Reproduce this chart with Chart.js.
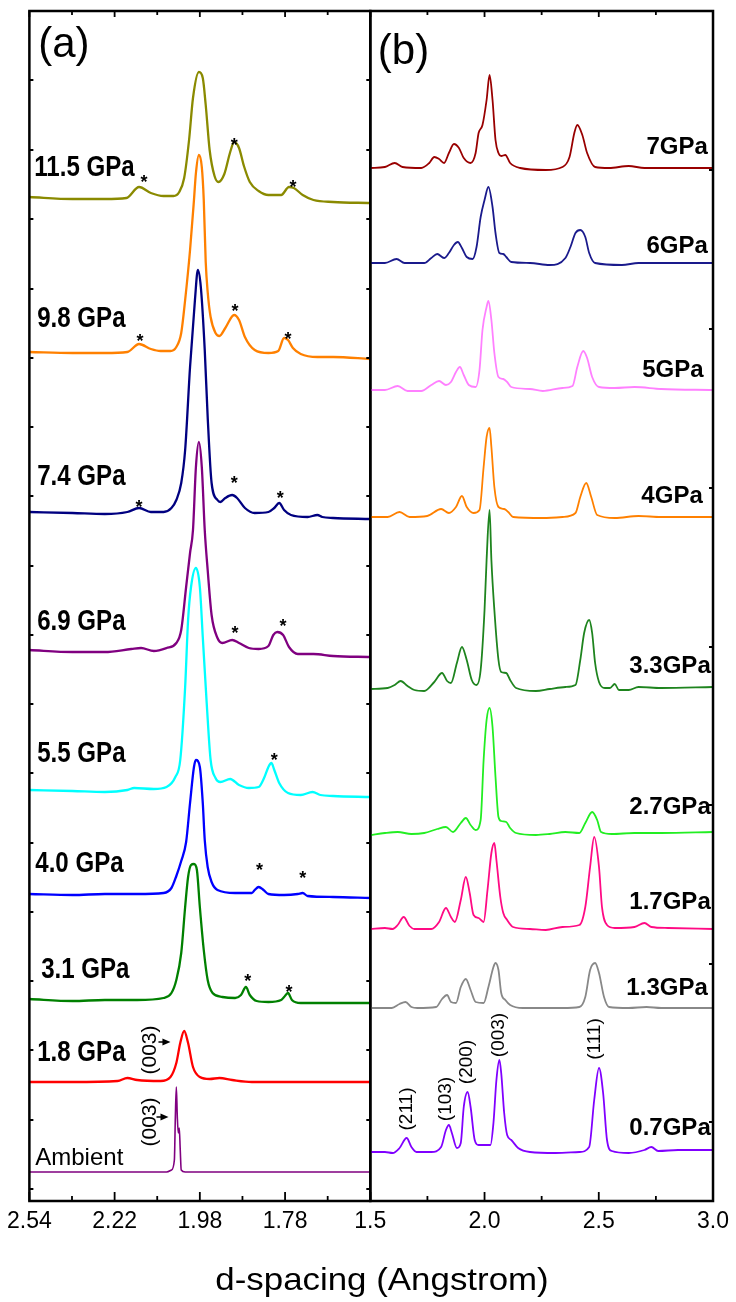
<!DOCTYPE html>
<html><head><meta charset="utf-8">
<script src="https://cdn.jsdelivr.net/npm/chart.js@4.4.1/dist/chart.umd.min.js"></script>
<style>
html,body{margin:0;padding:0;background:#fff;overflow:hidden;}
#wrap{position:relative;width:736px;height:1302px;background:#fff;}
canvas{position:absolute;left:0;top:0;}
#xtitle{position:absolute;left:132px;width:500px;top:1263px;text-align:center;font-family:'Liberation Sans',Arial,sans-serif;font-size:32px;line-height:32px;color:#000;white-space:nowrap;transform:scaleX(1.09);}
</style></head><body>
<div id="wrap">
<canvas id="ca" width="736" height="1302"></canvas>
<canvas id="cb" width="736" height="1302"></canvas>
<div id="xtitle">d-spacing (Angstrom)</div>
</div>
<script>
// ---------- axis ticks ----------
const tickValuesA = [0, 87, 174, 261, 348];
const tickLabelsA = ['2.54', '2.22', '1.98', '1.78', ''];
const minorTicksA = [43.5, 130.5, 217.5, 304.5];
const yTicksA = [12, 81, 151, 220, 289, 358, 428, 497, 566, 635, 705, 774, 843, 912, 982, 1051, 1121];
const tickValuesB = [1.5, 2.0, 2.5, 3.0];
const minorTicksB = [1.75, 2.25, 2.75];
const yTicksB = [79, 237, 396, 554, 713, 872, 1031];

// ---------- panel (a): [axis position, intensity] ----------
const pressuresA = ['11.5 GPa', '9.8 GPa', '7.4 GPa', '6.9 GPa', '5.5 GPa', '4.0 GPa', '3.1 GPa', '1.8 GPa', 'Ambient'];
const offsetsA = [1004, 849, 689, 551, 411, 307, 202, 119, 29];
const a115 = [[0,0],[44,-2],[77,-2],[99,-1],[112,10],[124,4],[137,1],[147,1],[153,5],[158,19],[163,57],[167,99],[173,125],[177,119],[180,92],[184,47],[189,21],[193,15],[199,23],[205,45],[209,55],[214,49],[219,31],[225,15],[234,6],[244,2],[257,2],[265,10],[270,9],[279,2],[290,-3],[310,-5],[348,-6]];
const a98 = [[0,0],[44,-1],[77,-1],[100,0],[112,8],[124,3],[134,1],[144,1],[150,5],[155,19],[159,52],[164,102],[168,152],[170,179],[173,197],[176,185],[178,152],[180,90],[182,60],[185,35],[190,19],[194,16],[200,24],[209,37],[214,32],[220,15],[230,2],[244,-1],[254,1],[260,14],[264,12],[269,4],[277,-2],[294,-5],[310,-5],[348,-7]];
const a74 = [[0,0],[44,-1],[77,-2],[100,0],[112,4],[124,0],[137,0],[145,4],[150,12],[155,29],[159,62],[164,145],[169,212],[172,242],[175,225],[179,162],[182,95],[186,29],[192,12],[195,10],[200,14],[207,17],[212,14],[220,4],[230,-1],[244,0],[250,4],[255,9],[260,2],[267,-3],[284,-5],[294,-3],[299,-5],[310,-6],[348,-7]];
const a69 = [[0,0],[44,-2],[77,-2],[104,1],[114,2],[127,-1],[140,2],[150,7],[155,20],[160,63],[164,97],[167,120],[170,183],[173,208],[176,183],[179,120],[182,80],[186,35],[192,12],[197,7],[207,10],[214,7],[224,2],[234,1],[244,4],[249,15],[253,18],[259,15],[265,3],[274,-4],[290,-4],[310,-6],[348,-7]];
const a55 = [[0,0],[44,-1],[77,-2],[100,0],[107,2],[127,1],[140,3],[149,13],[154,30],[159,103],[162,170],[165,203],[170,222],[174,203],[177,153],[181,87],[185,30],[190,12],[195,8],[205,11],[214,5],[224,2],[234,3],[240,13],[244,23],[247,27],[250,20],[255,7],[264,-3],[277,-5],[289,-2],[297,-5],[310,-6],[348,-7]];
const a40 = [[0,0],[44,-1],[77,0],[110,0],[137,1],[145,6],[150,18],[155,33],[160,52],[164,91],[168,127],[170,134],[174,127],[177,91],[179,54],[182,27],[186,12],[192,4],[210,1],[227,1],[230,4],[234,7],[239,4],[244,0],[260,-1],[274,0],[279,1],[284,-2],[310,-3],[348,-4]];
const a31 = [[0,0],[44,-2],[77,-1],[110,-1],[137,1],[145,6],[150,19],[155,46],[159,92],[162,122],[165,134],[168,135],[171,129],[174,92],[178,49],[182,19],[187,6],[197,2],[210,1],[216,4],[221,12],[225,4],[232,-2],[244,-3],[257,-1],[260,2],[264,6],[268,-1],[277,-4],[310,-4],[348,-4]];
const a18 = [[0,0],[44,0],[90,1],[100,4],[110,2],[134,1],[144,5],[150,19],[154,39],[158,51],[162,39],[167,15],[174,5],[184,3],[194,4],[207,2],[227,0],[310,0],[348,0]];
const aAmb = [[0,0],[140,0],[145,2],[148,12],[149,55],[150,85],[151,55],[152,39],[153,44],[154,22],[155,2],[159,0],[348,0]];
const seriesA = [a115, a98, a74, a69, a55, a40, a31, a18, aAmb];
const colorsA = ['#8a8a00', '#ff8000', '#000080', '#800080', '#00ffff', '#0000ff', '#008000', '#ff0000', '#800080'];

// ---------- panel (b): [d-spacing, intensity] ----------
const pressuresB = ['7GPa', '6GPa', '5GPa', '4GPa', '3.3GPa', '2.7GPa', '1.7GPa', '1.3GPa', '0.7GPa'];
const offsetsB = [1033, 938, 811, 684, 512, 366, 272, 193, 49];
const b7 = [[1.5,0],[1.564,1],[1.607,5],[1.641,1],[1.723,0],[1.758,5],[1.780,11],[1.801,9],[1.823,5],[1.844,15],[1.866,24],[1.888,20],[1.909,10],[1.939,5],[1.961,15],[1.974,35],[1.991,43],[2.009,68],[2.022,93],[2.035,68],[2.048,28],[2.061,15],[2.073,12],[2.091,13],[2.112,5],[2.156,0],[2.268,-2],[2.341,1],[2.372,11],[2.393,35],[2.406,43],[2.428,33],[2.449,15],[2.484,1],[2.545,0],[2.631,2],[2.700,0],[3.0,0]];
const b6 = [[1.5,0],[1.564,0],[1.615,4],[1.650,0],[1.736,0],[1.767,5],[1.793,9],[1.823,5],[1.844,10],[1.866,18],[1.883,21],[1.901,15],[1.922,6],[1.948,4],[1.965,16],[1.983,46],[2.000,63],[2.017,76],[2.035,56],[2.048,30],[2.065,10],[2.082,9],[2.095,6],[2.117,1],[2.199,0],[2.285,-2],[2.354,5],[2.376,16],[2.398,30],[2.419,33],[2.441,26],[2.458,10],[2.484,0],[2.601,-2],[2.674,0],[3.0,0]];
const b5 = [[1.5,0],[1.564,0],[1.620,4],[1.663,-1],[1.723,-1],[1.767,5],[1.801,9],[1.831,5],[1.853,8],[1.875,18],[1.892,23],[1.909,15],[1.931,5],[1.961,3],[1.978,20],[1.991,60],[2.009,83],[2.017,89],[2.030,70],[2.043,37],[2.061,13],[2.082,11],[2.099,8],[2.117,3],[2.199,1],[2.255,-1],[2.341,2],[2.385,4],[2.406,23],[2.432,39],[2.449,32],[2.471,13],[2.501,3],[2.570,2],[2.656,3],[2.773,1],[3.0,0]];
const b4 = [[1.5,0],[1.576,0],[1.628,5],[1.672,0],[1.749,1],[1.810,8],[1.844,4],[1.875,10],[1.901,21],[1.922,10],[1.952,4],[1.978,7],[1.996,50],[2.009,80],[2.022,89],[2.030,70],[2.043,30],[2.061,10],[2.086,8],[2.104,5],[2.125,0],[2.255,-1],[2.341,0],[2.398,4],[2.419,20],[2.445,34],[2.467,20],[2.493,2],[2.570,-1],[2.674,1],[2.773,0],[3.0,0]];
const b33 = [[1.5,0],[1.576,1],[1.607,4],[1.633,8],[1.663,3],[1.693,-1],[1.736,-2],[1.780,7],[1.814,16],[1.836,8],[1.853,6],[1.879,26],[1.901,42],[1.922,29],[1.944,9],[1.965,4],[1.983,19],[2.000,79],[2.009,129],[2.022,179],[2.030,129],[2.043,79],[2.061,29],[2.073,17],[2.095,16],[2.112,9],[2.138,1],[2.225,-2],[2.285,0],[2.354,2],[2.398,4],[2.419,29],[2.436,56],[2.458,69],[2.471,56],[2.484,26],[2.501,7],[2.527,1],[2.549,1],[2.570,5],[2.588,-1],[2.631,-1],[2.674,2],[2.773,1],[3.0,2]];
const b27 = [[1.5,0],[1.564,2],[1.620,3],[1.680,1],[1.736,2],[1.793,6],[1.831,8],[1.862,3],[1.896,12],[1.918,17],[1.939,10],[1.961,5],[1.983,15],[1.996,75],[2.009,115],[2.022,127],[2.035,108],[2.048,58],[2.061,18],[2.073,14],[2.095,13],[2.112,7],[2.138,2],[2.225,0],[2.285,1],[2.354,3],[2.415,2],[2.441,12],[2.471,23],[2.493,15],[2.510,3],[2.557,1],[2.656,2],[2.773,2],[3.0,3]];
const b17 = [[1.5,0],[1.564,1],[1.598,0],[1.620,4],[1.646,12],[1.672,3],[1.693,0],[1.767,0],[1.801,7],[1.831,21],[1.853,12],[1.870,7],[1.896,29],[1.918,52],[1.935,36],[1.952,14],[1.974,11],[1.996,7],[2.013,39],[2.030,76],[2.043,86],[2.052,69],[2.069,32],[2.082,16],[2.099,9],[2.125,2],[2.199,0],[2.268,-1],[2.341,2],[2.415,4],[2.441,22],[2.462,62],[2.480,92],[2.501,62],[2.514,22],[2.536,4],[2.570,1],[2.656,2],[2.700,6],[2.730,2],[2.803,1],[3.0,0]];
const b13 = [[1.5,0],[1.594,0],[1.628,4],[1.654,6],[1.680,1],[1.706,0],[1.788,1],[1.814,9],[1.836,13],[1.853,6],[1.875,5],[1.896,21],[1.918,29],[1.939,18],[1.961,6],[1.996,5],[2.017,21],[2.039,41],[2.048,45],[2.061,38],[2.073,15],[2.091,8],[2.112,3],[2.168,0],[2.341,0],[2.415,1],[2.441,11],[2.462,38],[2.484,45],[2.501,35],[2.523,11],[2.545,1],[2.631,0],[2.709,1],[2.773,0],[3.0,0]];
const b07 = [[1.5,0],[1.564,0],[1.598,-1],[1.628,4],[1.659,14],[1.680,5],[1.702,0],[1.767,0],[1.810,5],[1.831,22],[1.844,27],[1.857,19],[1.879,4],[1.896,9],[1.909,45],[1.926,60],[1.939,45],[1.957,12],[1.974,7],[2.026,7],[2.039,29],[2.052,72],[2.065,92],[2.073,79],[2.086,39],[2.099,17],[2.117,12],[2.147,4],[2.199,0],[2.311,-1],[2.415,0],[2.458,5],[2.480,52],[2.501,84],[2.519,59],[2.536,12],[2.557,1],[2.631,-1],[2.700,2],[2.730,5],[2.760,1],[2.847,2],[3.0,2]];
const seriesB = [b7, b6, b5, b4, b33, b27, b17, b13, b07];
const colorsB = ['#990000', '#1a1a8c', '#ff80ff', '#ff8000', '#1e841e', '#22ee22', '#ff0a84', '#888888', '#8000ff'];

// ---------- annotation anchors (data coordinates) ----------
const labelPosA = [[5,1025],[8,874],[8,716],[8,571],[8,439],[6,329],[12,223],[8,140],[6,36]];
const starsA = [[117,1024],[209,1061],[269,1019],[113,865],[210,895],[264,867],[112,699],[209,723],[256,708],[210,573],[259,580],[250,446],[235,336],[279,328],[223,225],[265,214]];
const hklA = [['(003)',123,151],['(003)',123,79]];
const arrowsA = [[144,159],[142,84]];
const labelPosB = [[2.977,1047],[2.977,948],[2.959,824],[2.955,698],[2.990,528],[2.990,387],[2.990,292],[2.977,206],[2.990,66]];
const hklB = [['(211)',1.659,92],['(103)',1.831,102],['(200)',1.922,139],['(003)',2.061,166],['(111)',2.484,162]];

const SANS = "'Liberation Sans',Arial,Helvetica,sans-serif";

const framePlugin = {
  id: 'frame',
  afterDraw(chart, args, o) {
    const {ctx, chartArea: a, scales: {x, y}} = chart;
    ctx.save();
    ctx.strokeStyle = '#000';
    ctx.lineWidth = 1.8;
    ctx.beginPath();
    const tk = (vals, lb, lt) => vals.forEach(v => {
      const px = x.getPixelForValue(v);
      ctx.moveTo(px, a.bottom); ctx.lineTo(px, a.bottom - lb);
      ctx.moveTo(px, a.top); ctx.lineTo(px, a.top + lt);
    });
    tk(o.xMajor, 9, 6); tk(o.xMinor, 5, 4);
    o.yTicks.forEach(v => {
      const py = y.getPixelForValue(v);
      if (o.yLeft) { ctx.moveTo(a.left, py); ctx.lineTo(a.left + 4, py); }
      if (o.yRight) { ctx.moveTo(a.right, py); ctx.lineTo(a.right - 4, py); }
    });
    ctx.stroke();
    ctx.lineWidth = 2.5;
    ctx.strokeRect(a.left, a.top, a.right - a.left, a.bottom - a.top);
    ctx.restore();
  }
};

const notesPlugin = {
  id: 'notes',
  afterDatasetsDraw(chart, args, o) {
    const {ctx, scales: {x, y}} = chart;
    ctx.save();
    ctx.fillStyle = '#000';
    (o.items || []).forEach(it => {
      const px = x.getPixelForValue(it.x), py = y.getPixelForValue(it.y);
      ctx.font = it.font;
      ctx.textAlign = it.align || 'left';
      ctx.textBaseline = it.baseline || 'alphabetic';
      ctx.save();
      ctx.translate(px, py);
      if (it.rotate) ctx.rotate(-Math.PI / 2);
      if (it.sx) ctx.scale(it.sx, 1);
      ctx.fillText(it.text, 0, it.dy || 0);
      ctx.restore();
    });
    (o.arrows || []).forEach(([ax, ay]) => {
      const px = x.getPixelForValue(ax), py = y.getPixelForValue(ay);
      ctx.beginPath();
      ctx.moveTo(px, py); ctx.lineTo(px - 8, py - 3.5); ctx.lineTo(px - 8, py + 3.5); ctx.closePath();
      ctx.fill();
      ctx.lineWidth = 1.5; ctx.strokeStyle = '#000';
      ctx.beginPath(); ctx.moveTo(px - 12, py); ctx.lineTo(px - 7, py); ctx.stroke();
    });
    ctx.restore();
  }
};

function buildDatasets(series, offsets, colors, widths) {
  return series.map((s, i) => ({
    data: s.map(([xv, yv]) => ({x: xv, y: yv + offsets[i]})),
    borderColor: colors[i],
    borderWidth: widths[i],
    pointRadius: 0,
    fill: false,
    cubicInterpolationMode: 'monotone'
  }));
}

function makeChart(id, datasets, pad, xs, frame, items, arrows) {
  return new Chart(document.getElementById(id), {
    type: 'line',
    data: {datasets},
    plugins: [framePlugin, notesPlugin],
    options: {
      responsive: false, animation: false, events: [],
      layout: {padding: pad},
      plugins: {legend: {display: false}, tooltip: {enabled: false}, frame, notes: {items, arrows}},
      scales: {
        x: Object.assign({
          type: 'linear',
          grid: {display: false, drawTicks: false},
          border: {display: false},
          afterFit: s => { s.height = 101; }
        }, xs),
        y: {type: 'linear', display: false, min: 0, max: 1190}
      }
    }
  });
}

const tickFont = {family: SANS, size: 23};

// ----- panel (a) -----
const itemsA = [{text: '(a)', x: 9, y: 1144, font: '42px ' + SANS}];
pressuresA.forEach((p, i) => itemsA.push(i === 8
  ? {text: p, x: labelPosA[i][0], y: labelPosA[i][1], font: '24px ' + SANS}
  : {text: p, x: labelPosA[i][0], y: labelPosA[i][1], font: 'bold 29px ' + SANS, sx: 0.83}));
starsA.forEach(([sx, sy]) => itemsA.push({text: '*', x: sx, y: sy, font: 'bold 18px ' + SANS, align: 'center', dy: 10.5}));
hklA.forEach(([t, hx, hy]) => itemsA.push({text: t, x: hx, y: hy, font: '21px ' + SANS, align: 'center', baseline: 'middle', rotate: true}));

makeChart('ca',
  buildDatasets(seriesA, offsetsA, colorsA, [2.3, 2.3, 2.3, 2.3, 2.3, 2.3, 2.3, 2.3, 1.6]),
  {left: 22.7, right: 736 - 370.3, top: 11, bottom: 0},
  {min: 0, max: 348,
   afterBuildTicks: s => { s.ticks = tickValuesA.map(v => ({value: v})); },
   ticks: {padding: 7, color: '#000', font: tickFont, maxRotation: 0, autoSkip: false,
           callback: v => tickLabelsA[tickValuesA.indexOf(v)]}},
  {xMajor: tickValuesA, xMinor: minorTicksA, yTicks: yTicksA, yLeft: true, yRight: true},
  itemsA, arrowsA);

// ----- panel (b) -----
const itemsB = [{text: '(b)', x: 1.533, y: 1137, font: '42px ' + SANS}];
pressuresB.forEach((p, i) => itemsB.push({
  text: p, x: labelPosB[i][0], y: labelPosB[i][1], font: 'bold 24px ' + SANS, align: 'right'
}));
hklB.forEach(([t, hx, hy]) => itemsB.push({text: t, x: hx, y: hy, font: '19px ' + SANS, align: 'center', baseline: 'middle', rotate: true}));

makeChart('cb',
  buildDatasets(seriesB, offsetsB, colorsB, [1.8, 1.8, 1.8, 1.8, 1.8, 1.8, 1.8, 1.8, 1.8]),
  {left: 370.3, right: 736 - 717.7, top: 11, bottom: 0},
  {min: 1.5, max: 3.0,
   afterBuildTicks: s => { s.ticks = tickValuesB.map(v => ({value: v})); },
   ticks: {padding: 7, color: '#000', font: tickFont, maxRotation: 0, autoSkip: false,
           callback: v => v.toFixed(1)}},
  {xMajor: tickValuesB, xMinor: minorTicksB, yTicks: yTicksB, yLeft: false, yRight: true},
  itemsB, []);
</script>
</body></html>
